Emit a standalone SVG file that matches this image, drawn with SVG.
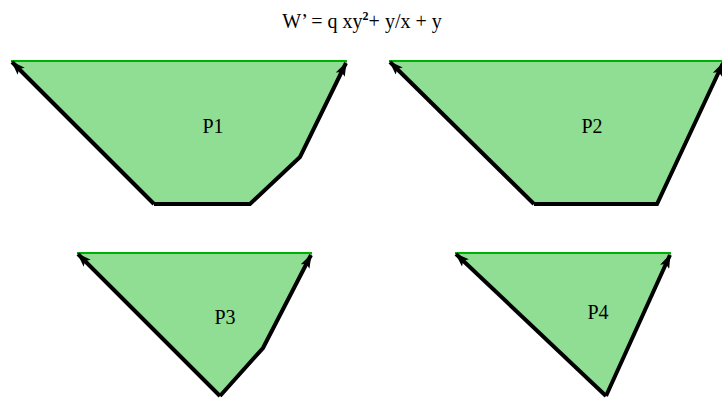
<svg xmlns="http://www.w3.org/2000/svg" width="722" height="403" viewBox="0 0 722 403">
<style>
.poly{fill:#90dd94;stroke:none}
.top{stroke:#00b000;stroke-width:2;fill:none}
.edge{stroke:#000;stroke-width:4;fill:none;stroke-linejoin:miter;marker-end:url(#ah)}
.lbl{font-family:"Liberation Serif",serif;font-size:20px;fill:#000;text-anchor:middle}
</style>
<defs>
<marker id="ah" viewBox="0 0 14 10" refX="13" refY="5" markerWidth="14" markerHeight="10" markerUnits="userSpaceOnUse" orient="auto">
<path d="M0,0 L14,5 L0,10 L3,5 Z" fill="#000"/>
</marker>
</defs>
<text class="lbl" x="362" y="28">W’ = q xy<tspan font-size="12" font-weight="bold" dy="-8">2</tspan><tspan dy="8">+ y/x + y</tspan></text>
<g id="P1">
<polygon class="poly" points="11,61 347,61 300,157 250,204 154,204"/>
<line class="top" x1="11" y1="61" x2="347" y2="61"/>
<text class="lbl" x="213" y="133">P1</text>
</g>
<g id="P2">
<polygon class="poly" points="389,61 725,61 659,204 534,204"/>
<line class="top" x1="389" y1="61" x2="725" y2="61"/>
<text class="lbl" x="592" y="133">P2</text>
</g>
<g id="P3">
<polygon class="poly" points="77,253 312,253 263,348 220,396"/>
<line class="top" x1="77" y1="253" x2="312" y2="253"/>
<text class="lbl" x="225" y="324">P3</text>
</g>
<g id="P4">
<polygon class="poly" points="455,253 671,253 606,396"/>
<line class="top" x1="455" y1="253" x2="671" y2="253"/>
<text class="lbl" x="598" y="319">P4</text>
</g>
<g id="connectors">
<path class="edge" d="M154,204 L12,62"/>
<path class="edge" d="M154,204 L250,204 L300,157 L346,63"/>
<path class="edge" d="M534,204 L390,62"/>
<path class="edge" d="M534,204 L657,204 L723,63"/>
<path class="edge" d="M220,396 L78,254"/>
<path class="edge" d="M220,396 L263,348 L311,255"/>
<path class="edge" d="M606,396 L456,254"/>
<path class="edge" d="M606,396 L670,255"/>
</g>
</svg>
